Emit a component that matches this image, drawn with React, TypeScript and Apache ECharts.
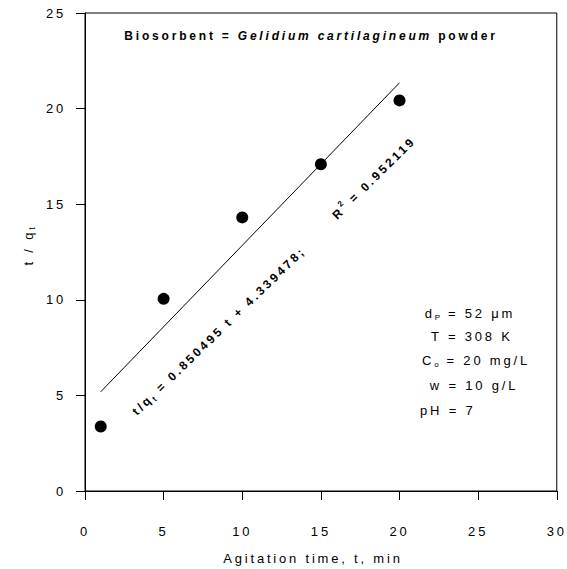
import React, { useEffect, useRef } from "react";
import * as echarts from "echarts";

const FONT = '"Liberation Sans", Arial, Helvetica, sans-serif';
const LS = 2.8;

// data
const timeValues = [1, 5, 10, 15, 20];
const ratioValues = [3.37, 10.05, 14.31, 17.09, 20.43];
const fitTimes = [1, 20];
const fitRatios = [5.19, 21.35];
const xRange = [0, 30];
const yRange = [0, 25];
const tickStep = 5;

type Part = { t: string; size: number; bold?: boolean; italic?: boolean; dy?: number };

let ctx: CanvasRenderingContext2D | null = null;
function measure(p: Part) {
  if (!ctx) ctx = document.createElement("canvas").getContext("2d");
  ctx!.font = `${p.italic ? "italic " : ""}${p.bold ? "bold " : ""}${p.size}px ${FONT}`;
  return ctx!.measureText(p.t).width + LS * p.t.length;
}

function run(parts: Part[], x: number, y: number, rotation = 0, anchor: "center" | "left" = "center") {
  const widths = parts.map(measure);
  const total = widths.reduce((a, b) => a + b, 0);
  let cur = anchor === "center" ? -total / 2 : 0;
  const children = parts.map((p, i) => {
    const el = {
      type: "text",
      x: cur,
      y: p.dy || 0,
      style: {
        text: p.t,
        fontSize: p.size,
        fontFamily: FONT,
        fontWeight: p.bold ? "bold" : "normal",
        fontStyle: p.italic ? "italic" : "normal",
        fill: "#000",
        align: "left",
        verticalAlign: "middle",
        textAlign: "left",
        textVerticalAlign: "middle",
      },
    };
    cur += widths[i];
    return el;
  });
  return { type: "group", x, y, rotation, silent: true, children };
}

export default function App() {
  const ref = useRef<HTMLDivElement>(null);
  useEffect(() => {
    document.body.style.margin = "0";
    const chart = echarts.init(ref.current!, null, { renderer: "svg" });
    const axisCommon = {
      type: "value",
      interval: tickStep,
      axisLine: { show: true, lineStyle: { color: "#000", width: 1 } },
      axisTick: { show: true, inside: false, length: 9, lineStyle: { color: "#000", width: 1 } },
      splitLine: { show: false },
    };
    const graphics = [
      run(
        [
          { t: "Biosorbent = ", size: 12, bold: true },
          { t: "Gelidium cartilagineum ", size: 12, bold: true, italic: true },
          { t: "powder", size: 12, bold: true },
        ],
        311,
        36
      ),
      run(
        [
          { t: "t/q", size: 12, bold: true },
          { t: "t ", size: 8, bold: true, dy: 4 },
          { t: "= 0.850495 t + 4.339478;", size: 12, bold: true },
        ],
        219,
        331,
        0.77
      ),
      run(
        [
          { t: "R", size: 12, bold: true },
          { t: "2 ", size: 8, bold: true, dy: -5 },
          { t: "= 0.952119", size: 12, bold: true },
        ],
        374,
        178,
        0.78
      ),
      run([{ t: "d", size: 13 }, { t: "P ", size: 8, dy: 4 }, { t: "= 52 μm", size: 13 }], 470, 313),
      run([{ t: "T = 308 K", size: 13 }], 472, 336),
      run([{ t: "C", size: 13 }, { t: "o ", size: 8, dy: 4 }, { t: "= 20 mg/L", size: 13 }], 476, 360),
      run([{ t: "w = 10 g/L", size: 13 }], 474, 385),
      run([{ t: "pH = 7", size: 13 }], 420, 410, 0, "left"),
      run([{ t: "t / q", size: 13 }, { t: "t", size: 9, dy: 4 }], 28, 245, Math.PI / 2),
      run([{ t: "Agitation time, t, min", size: 13 }], 313, 558),
    ];
    chart.setOption({
      animation: false,
      grid: { left: 85, right: 8, top: 13, bottom: 78, show: true, borderColor: "#000", borderWidth: 1 },
      xAxis: {
        ...axisCommon,
        min: xRange[0],
        max: xRange[1],
        axisLabel: { margin: 34, color: "#000", fontSize: 13, fontFamily: FONT },
      },
      yAxis: {
        ...axisCommon,
        min: yRange[0],
        max: yRange[1],
        axisLabel: { margin: 19, color: "#000", fontSize: 13, fontFamily: FONT },
      },
      series: [
        {
          type: "line",
          data: fitTimes.map((t, i) => [t, fitRatios[i]]),
          showSymbol: false,
          silent: true,
          lineStyle: { color: "#000", width: 1 },
          z: 2,
        },
        {
          type: "scatter",
          data: timeValues.map((t, i) => [t, ratioValues[i]]),
          symbolSize: 12,
          silent: true,
          itemStyle: { color: "#000", opacity: 1 },
          z: 3,
        },
      ],
      graphic: graphics,
    });
    return () => chart.dispose();
  }, []);
  return <div ref={ref} style={{ width: 567, height: 569, letterSpacing: `${LS}px` }} />;
}
